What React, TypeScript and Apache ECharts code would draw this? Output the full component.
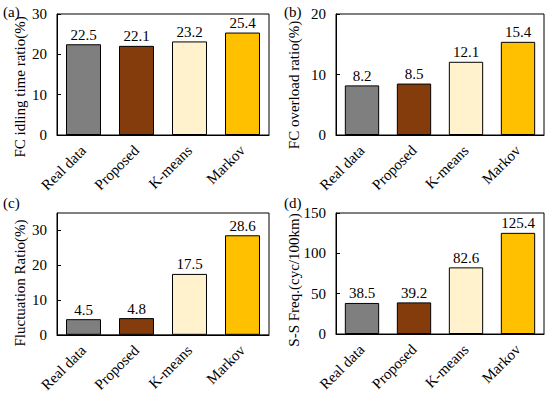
import React, { useEffect, useRef } from "react";
import * as echarts from "echarts";

const categories = ["Real data", "Proposed", "K-means", "Markov"];
const barColors = ["#7f7f7f", "#843c0c", "#fff2cc", "#ffc000"];

const idlingRatio = [22.5, 22.1, 23.2, 25.4];
const overloadRatio = [8.2, 8.5, 12.1, 15.4];
const fluctuationRatio = [4.5, 4.8, 17.5, 28.6];
const ssFreq = [38.5, 39.2, 82.6, 125.4];

const panelLetters = ["(a)", "(b)", "(c)", "(d)"];
const yNames = [
  "FC idling time ratio(%)",
  "FC overload ratio(%)",
  "Fluctuation Ratio(%)",
  "S-S Freq.(cyc/100km)",
];
const yMax = [30, 20, 35, 150];
const yInterval = [10, 10, 10, 50];

const FONT = "Liberation Serif, Times New Roman, serif";

export default function App() {
  const ref = useRef<HTMLDivElement>(null);
  useEffect(() => {
    if (!ref.current) return;
    const chart = echarts.init(ref.current, null, { renderer: "svg" });
    const grids = [
      { left: 57, top: 14, width: 212, height: 121 },
      { left: 336, top: 14, width: 208, height: 121 },
      { left: 57, top: 213, width: 212, height: 122 },
      { left: 336, top: 213, width: 208, height: 121 },
    ];
    const datasets = [idlingRatio, overloadRatio, fluctuationRatio, ssFreq];
    const namePos = [
      { x: 20, y: 87 },
      { x: 294, y: 85 },
      { x: 20, y: 283 },
      { x: 294, y: 280 },
    ];
    const letterPos = [
      { x: 3, y: 12 },
      { x: 284, y: 12 },
      { x: 3, y: 203 },
      { x: 284, y: 203 },
    ];
    chart.setOption({
      animation: false,
      backgroundColor: "#ffffff",
      grid: grids.map((g) => ({
        ...g,
        show: true,
        borderColor: "#000",
        borderWidth: 1,
        backgroundColor: "transparent",
      })),
      xAxis: grids.map((_, i) => ({
        type: "category",
        gridIndex: i,
        data: categories,
        axisLine: { lineStyle: { color: "#000", width: 1 } },
        axisTick: { show: false },
        axisLabel: {
          rotate: 45,
          margin: 13,
          color: "#000",
          fontFamily: FONT,
          fontSize: 15,
          interval: 0,
        },
      })),
      yAxis: grids.map((_, i) => ({
        type: "value",
        gridIndex: i,
        min: 0,
        max: yMax[i],
        interval: yInterval[i],
        splitLine: { show: false },
        axisLine: { show: true, lineStyle: { color: "#000", width: 1 } },
        axisTick: { show: true, inside: true, length: 4, lineStyle: { color: "#000" } },
        axisLabel: {
          color: "#000",
          fontFamily: FONT,
          fontSize: 15,
          margin: 10,
          showMaxLabel: i === 2 ? false : true,
        },
      })),
      series: datasets.map((d, i) => ({
        type: "bar",
        xAxisIndex: i,
        yAxisIndex: i,
        barWidth: "66%",
        data: d.map((v, j) => ({
          value: v,
          itemStyle: { color: barColors[j], borderColor: "#000", borderWidth: 1 },
        })),
        label: {
          show: true,
          position: "top",
          distance: 2,
          color: "#000",
          fontFamily: FONT,
          fontSize: 15,
        },
      })),
      graphic: [
        ...yNames.map((t, i) => ({
          type: "text",
          x: namePos[i].x,
          y: namePos[i].y,
          rotation: Math.PI / 2,
          style: {
            text: t,
            align: "center",
            verticalAlign: "middle",
            fill: "#000",
            font: `15px ${FONT}`,
          },
        })),
        ...panelLetters.map((t, i) => ({
          type: "text",
          x: letterPos[i].x,
          y: letterPos[i].y,
          style: {
            text: t,
            align: "left",
            verticalAlign: "middle",
            fill: "#000",
            font: `15px ${FONT}`,
          },
        })),
      ],
    });
    return () => chart.dispose();
  }, []);
  return (
    <div
      ref={ref}
      style={{ position: "absolute", left: 0, top: 0, width: 550, height: 395 }}
    />
  );
}
